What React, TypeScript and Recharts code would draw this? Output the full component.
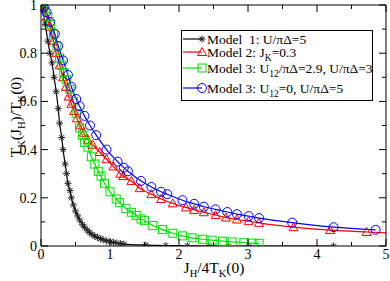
import React from "react";
import { LineChart, Line, XAxis, YAxis, Legend } from "recharts";

// Model 1: U/piDelta=5 (black stars)
const model1X = [0, 0.03, 0.06, 0.1, 0.13, 0.16, 0.19, 0.22, 0.25, 0.27, 0.3, 0.32, 0.35, 0.37, 0.39, 0.42, 0.44, 0.47, 0.5, 0.53, 0.56, 0.6, 0.63, 0.67, 0.7, 0.74, 0.78, 0.82, 0.86, 0.9, 0.95, 1.0, 1.05, 1.1, 1.15, 1.2, 1.52, 1.81, 2.12, 2.43, 2.72, 3.01, 4.24];
const model1Y = [1, 0.97, 0.92, 0.85, 0.8, 0.76, 0.7, 0.64, 0.57, 0.51, 0.45, 0.4, 0.34, 0.3, 0.26, 0.23, 0.2, 0.17, 0.145, 0.125, 0.108, 0.09, 0.078, 0.066, 0.057, 0.048, 0.041, 0.035, 0.03, 0.026, 0.021, 0.018, 0.015, 0.012, 0.01, 0.008, 0.004, 0.002, 0.001, 0, 0, 0, 0];

// Model 2: J_K=0.3 (red triangles)
const model2X = [0, 0.03, 0.08, 0.13, 0.18, 0.22, 0.27, 0.32, 0.36, 0.4, 0.44, 0.48, 0.52, 0.57, 0.62, 0.68, 0.75, 0.85, 0.95, 1.05, 1.15, 1.19, 1.31, 1.43, 1.6, 1.74, 1.91, 2.1, 2.22, 2.36, 2.53, 2.68, 2.84, 3.01, 3.16, 3.66, 4.19, 4.72, 5.25];
const model2Y = [1, 0.99, 0.95, 0.91, 0.85, 0.8, 0.75, 0.7, 0.66, 0.62, 0.59, 0.56, 0.53, 0.5, 0.47, 0.44, 0.42, 0.39, 0.36, 0.33, 0.3, 0.29, 0.27, 0.24, 0.215, 0.195, 0.177, 0.16, 0.15, 0.14, 0.128, 0.118, 0.11, 0.103, 0.096, 0.078, 0.066, 0.058, 0.051];

// Model 3: U12/piDelta=2.9, U/piDelta=3 (green squares)
const model3aX = [0, 0.03, 0.06, 0.1, 0.14, 0.18, 0.23, 0.27, 0.3, 0.33, 0.37, 0.42, 0.47, 0.51, 0.56, 0.6, 0.63, 0.68, 0.73, 0.78, 0.83, 0.87, 0.92, 1.0, 1.09, 1.14, 1.23, 1.31, 1.38, 1.45, 1.5, 1.62, 1.76, 1.91, 2.05, 2.19, 2.34, 2.48, 2.63, 2.77, 2.94, 3.06, 3.16];
const model3aY = [1, 0.99, 0.98, 0.95, 0.92, 0.88, 0.83, 0.78, 0.75, 0.72, 0.69, 0.65, 0.6, 0.55, 0.49, 0.46, 0.43, 0.41, 0.37, 0.34, 0.31, 0.29, 0.26, 0.225, 0.195, 0.18, 0.155, 0.14, 0.127, 0.112, 0.105, 0.085, 0.068, 0.053, 0.042, 0.034, 0.028, 0.024, 0.02, 0.017, 0.014, 0.012, 0.011];

// Model 3: U12=0, U/piDelta=5 (blue circles)
const model3bX = [0, 0.04, 0.08, 0.13, 0.2, 0.25, 0.32, 0.39, 0.44, 0.51, 0.56, 0.63, 0.71, 0.8, 0.95, 1.11, 1.2, 1.26, 1.45, 1.6, 1.74, 1.83, 2.05, 2.22, 2.36, 2.53, 2.7, 2.84, 3.01, 3.16, 3.64, 4.24, 4.85];
const model3bY = [1, 0.99, 0.97, 0.93, 0.88, 0.83, 0.77, 0.71, 0.66, 0.61, 0.58, 0.54, 0.5, 0.46, 0.4, 0.35, 0.325, 0.31, 0.27, 0.245, 0.225, 0.215, 0.19, 0.175, 0.163, 0.152, 0.141, 0.132, 0.124, 0.116, 0.097, 0.078, 0.067];

const xTicks = [0, 0.5, 1, 1.5, 2, 2.5, 3, 3.5, 4, 4.5, 5];
const yTicks = [0, 0.1, 0.2, 0.3, 0.4, 0.5, 0.6, 0.7, 0.8, 0.9, 1];

const FONT = "'Liberation Serif', 'DejaVu Serif', serif";

const toRows = (xs: number[], ys: number[]) => xs.map((x, i) => ({ x, y: ys[i] }));

const series = [
  { key: "m1", data: toRows(model1X, model1Y), color: "#000000", marker: "star" },
  { key: "m2", data: toRows(model2X, model2Y), color: "#ff0000", marker: "triangle" },
  { key: "m3a", data: toRows(model3aX, model3aY), color: "#00e000", marker: "square" },
  { key: "m3b", data: toRows(model3bX, model3bY), color: "#0000ff", marker: "circle" },
];

const Marker = ({ cx, cy, kind, color }: any) => {
  if (cx == null || cy == null) return null;
  if (kind === "star") {
    const r = 3.5;
    const d = 2.5;
    return (
      <g stroke="#222" strokeWidth={1}>
        <line x1={cx - r} y1={cy} x2={cx + r} y2={cy} />
        <line x1={cx} y1={cy - r} x2={cx} y2={cy + r} />
        <line x1={cx - d} y1={cy - d} x2={cx + d} y2={cy + d} />
        <line x1={cx - d} y1={cy + d} x2={cx + d} y2={cy - d} />
      </g>
    );
  }
  if (kind === "triangle") {
    return (
      <polygon
        points={`${cx},${cy - 4.5} ${cx - 4.5},${cy + 3.5} ${cx + 4.5},${cy + 3.5}`}
        fill="none"
        stroke={color}
        strokeWidth={1}
      />
    );
  }
  if (kind === "square") {
    return <rect x={cx - 4} y={cy - 4} width={8} height={8} fill="none" stroke={color} strokeWidth={1} />;
  }
  return <circle cx={cx} cy={cy} r={4.5} fill="none" stroke={color} strokeWidth={1} />;
};

const isMajor = (v: number, step: number) => Math.abs(Math.round(v / step) * step - v) < 1e-6;

const BottomTick = ({ x, y, payload }: any) => {
  const major = isMajor(payload.value, 1);
  return (
    <g>
      <line x1={x} y1={y} x2={x} y2={y - (major ? 7 : 4)} stroke="#000" />
      {major && (
        <text x={x} y={y + 13} textAnchor="middle" fontFamily={FONT} fontSize={14} fill="#000">
          {payload.value}
        </text>
      )}
    </g>
  );
};

const TopTick = ({ x, y, payload }: any) => {
  const major = isMajor(payload.value, 1);
  return <line x1={x} y1={y} x2={x} y2={y + (major ? 7 : 4)} stroke="#000" />;
};

const LeftTick = ({ x, y, payload }: any) => {
  const major = isMajor(payload.value, 0.2);
  return (
    <g>
      <line x1={x} y1={y} x2={x + (major ? 7 : 4)} y2={y} stroke="#000" />
      {major && (
        <text x={x - 4} y={y + 5} textAnchor="end" fontFamily={FONT} fontSize={14} fill="#000">
          {Number(payload.value.toFixed(1))}
        </text>
      )}
    </g>
  );
};

const RightTick = ({ x, y, payload }: any) => {
  const major = isMajor(payload.value, 0.2);
  return <line x1={x} y1={y} x2={x - (major ? 7 : 4)} y2={y} stroke="#000" />;
};

const XTitle = () => (
  <text x={214} y={273} textAnchor="middle" fontFamily={FONT} fontSize={15.5} fill="#000">
    J<tspan fontSize={10.5} dy={4}>H</tspan>
    <tspan dy={-4}>/4T</tspan>
    <tspan fontSize={10.5} dy={4}>K</tspan>
    <tspan dy={-4}>(0)</tspan>
  </text>
);

const YTitle = () => (
  <text
    x={0}
    y={0}
    transform="translate(21,117) rotate(-90)"
    textAnchor="middle"
    fontFamily={FONT}
    fontSize={15.5}
    fill="#000"
  >
    T<tspan fontSize={10.5} dy={4}>K</tspan>
    <tspan dy={-4}>(J</tspan>
    <tspan fontSize={10.5} dy={4}>H</tspan>
    <tspan dy={-4}>)/T</tspan>
    <tspan fontSize={10.5} dy={4}>K</tspan>
    <tspan dy={-4}>(0)</tspan>
  </text>
);

const sub = (s: string) => (
  <tspan fontSize={9.5} dy={4}>
    {s}
  </tspan>
);
const back = (s: string) => <tspan dy={-4}>{s}</tspan>;

const legendLabels = [
  <>{"Model\u00a0\u00a01: U/πΔ=5"}</>,
  <>
    {"Model 2: J"}
    {sub("K")}
    {back("=0.3")}
  </>,
  <>
    {"Model 3: U"}
    {sub("12")}
    {back("/πΔ=2.9, U/πΔ=3")}
  </>,
  <>
    {"Model 3: U"}
    {sub("12")}
    {back("=0, U/πΔ=5")}
  </>,
];
const legendRowY = [9, 22, 38, 58];

const LegendBox = () => (
  <svg width={193} height={71} style={{ display: "block" }}>
    <rect x={0.5} y={0.5} width={191} height={70} fill="#fff" stroke="#000" strokeWidth={1} />
    {series.map((s, i) => (
      <g key={s.key}>
        <line x1={2} y1={legendRowY[i]} x2={21} y2={legendRowY[i]} stroke={s.color} strokeWidth={1.2} />
        <Marker cx={21} cy={legendRowY[i]} kind={s.marker} color={s.color} />
        <text x={26} y={legendRowY[i] + 4.5} fontFamily={FONT} fontSize={13.5} fill="#000">
          {legendLabels[i]}
        </text>
      </g>
    ))}
  </svg>
);

export default function App() {
  return (
    <div style={{ position: "absolute", left: 0, top: 0, width: 390, height: 281, background: "#fff" }}>
      <LineChart width={390} height={281} margin={{ top: 4, right: 3, bottom: 34, left: 40 }}>
        <XAxis
          xAxisId="b"
          type="number"
          dataKey="x"
          domain={[0, 5]}
          allowDataOverflow
          ticks={xTicks}
          interval={0}
          height={1}
          tickSize={0}
          tickMargin={0}
          tickLine={false}
          tick={<BottomTick />}
          axisLine={{ stroke: "#000" }}
          label={<XTitle />}
        />
        <XAxis
          xAxisId="t"
          orientation="top"
          type="number"
          dataKey="x"
          domain={[0, 5]}
          allowDataOverflow
          ticks={xTicks}
          interval={0}
          height={1}
          tickSize={0}
          tickMargin={0}
          tickLine={false}
          tick={<TopTick />}
          axisLine={{ stroke: "#000" }}
        />
        <YAxis
          yAxisId="l"
          type="number"
          domain={[0, 1]}
          allowDataOverflow
          ticks={yTicks}
          interval={0}
          width={1}
          tickSize={0}
          tickMargin={0}
          tickLine={false}
          tick={<LeftTick />}
          axisLine={{ stroke: "#000" }}
          label={<YTitle />}
        />
        <YAxis
          yAxisId="r"
          orientation="right"
          type="number"
          domain={[0, 1]}
          allowDataOverflow
          ticks={yTicks}
          interval={0}
          width={1}
          tickSize={0}
          tickMargin={0}
          tickLine={false}
          tick={<RightTick />}
          axisLine={{ stroke: "#000" }}
        />
        {/* invisible series so the mirrored top/right axes are bound to data */}
        <Line
          xAxisId="t"
          yAxisId="r"
          data={series[0].data}
          dataKey="y"
          stroke="none"
          dot={false}
          activeDot={false}
          legendType="none"
          isAnimationActive={false}
        />
        {series.map((s) => (
          <Line
            key={s.key}
            xAxisId="b"
            yAxisId="l"
            data={s.data}
            dataKey="y"
            type="monotone"
            stroke={s.color}
            strokeWidth={1.2}
            isAnimationActive={false}
            dot={(p: any) => <Marker key={`${s.key}-${p.index}`} cx={p.cx} cy={p.cy} kind={s.marker} color={s.color} />}
            activeDot={false}
          />
        ))}
        <Legend
          layout="horizontal"
          verticalAlign="middle"
          align="center"
          content={<LegendBox />}
          wrapperStyle={{ left: 181, top: 30, width: 193, height: 71 }}
        />
      </LineChart>
    </div>
  );
}
